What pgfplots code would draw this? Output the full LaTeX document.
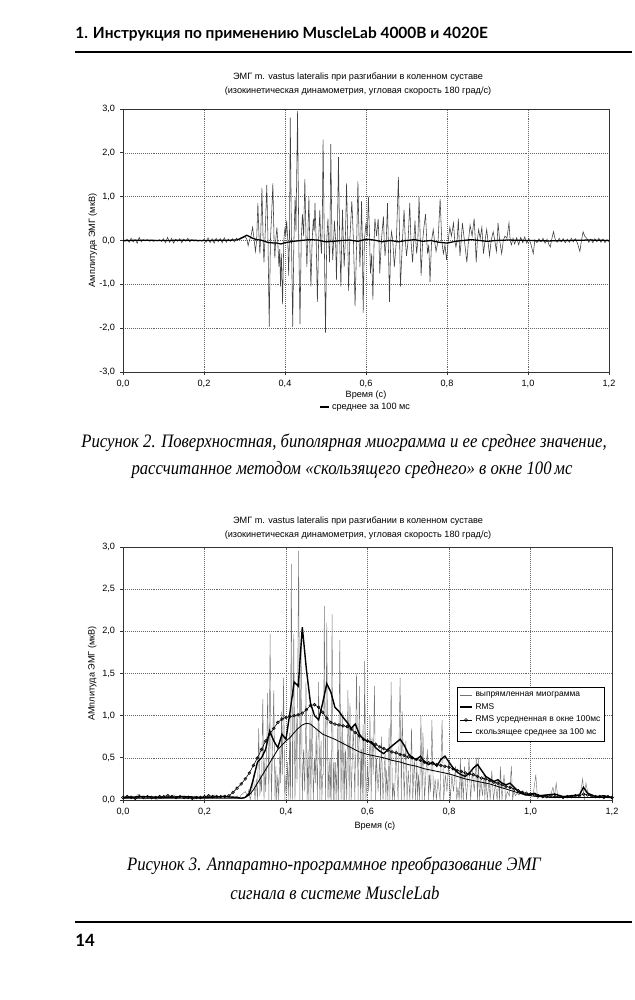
\documentclass[border=0pt]{standalone}
\usepackage{graphicx}
\usepackage{pgfplots}
\pgfplotsset{compat=1.18}
\usepackage{pgfplotstable}
\usepackage{fontspec}
\setmainfont{Liberation Sans}
\newfontfamily\capfont{Liberation Serif}
\newfontfamily\headfont{Lato}
\newcommand\cf{\fontsize{6.5}{7.5}\selectfont}
\newcommand\capt[1]{\scalebox{0.88}[1]{\capfont\itshape\fontsize{13.5}{16}\selectfont #1}}

\pgfplotstableread[row sep=\\]{
t v\\
0 0.01\\ 0.005 -0.02\\ 0.01 0.03\\ 0.015 -0.04\\ 0.02 0.05\\ 0.025 -0.03\\ 0.03 0.02\\ 0.035 -0.06\\ 0.04 0.07\\ 0.045 -0.03\\
0.05 0.02\\ 0.055 -0.01\\ 0.06 0.02\\ 0.065 -0.02\\ 0.07 0.01\\ 0.075 -0.02\\ 0.08 0.01\\ 0.085 -0.01\\ 0.09 0.02\\ 0.095 -0.02\\
0.1 0.04\\ 0.105 -0.05\\ 0.11 0.07\\ 0.115 -0.04\\ 0.12 0.05\\ 0.125 -0.06\\ 0.13 0.03\\ 0.135 -0.02\\ 0.14 0.04\\ 0.145 -0.05\\
0.15 0.03\\ 0.155 -0.02\\ 0.16 0.05\\ 0.165 -0.03\\ 0.17 0.02\\ 0.175 -0.01\\ 0.18 0.02\\ 0.185 -0.02\\ 0.19 0.01\\ 0.195 -0.02\\
0.2 0.03\\ 0.205 -0.04\\ 0.21 0.06\\ 0.215 -0.05\\ 0.22 0.04\\ 0.225 -0.06\\ 0.23 0.05\\ 0.235 -0.03\\ 0.24 0.04\\ 0.245 -0.05\\
0.25 0.06\\ 0.255 -0.04\\ 0.26 0.03\\ 0.265 -0.02\\ 0.27 0.04\\ 0.275 -0.03\\ 0.28 0.05\\ 0.285 0.02\\ 0.29 0.06\\ 0.295 0.08\\
0.3 0.1\\ 0.305 0.05\\ 0.309 -0.12\\ 0.312 0\\ 0.316 0.1\\
0.32 0.3\\ 0.324 0\\ 0.327 -0.25\\ 0.33 0\\ 0.333 0.85\\ 0.336 0.05\\ 0.338 -0.3\\ 0.34 0.1\\ 0.343 1.2\\ 0.346 0\\
0.348 -0.5\\ 0.35 -0.1\\ 0.352 0.4\\ 0.355 1.27\\ 0.358 0\\ 0.361 -1.97\\ 0.364 0\\ 0.367 0.6\\ 0.37 1.3\\ 0.373 0\\
0.375 -0.4\\ 0.377 0\\ 0.38 0.3\\ 0.382 0\\ 0.385 -0.6\\ 0.387 -0.2\\ 0.389 -1.05\\ 0.391 -0.3\\ 0.394 -1.45\\ 0.397 0\\
0.4 0.3\\ 0.402 0.1\\ 0.404 0.45\\ 0.407 0\\ 0.409 -0.8\\ 0.411 0\\ 0.413 2.8\\ 0.416 0\\ 0.419 -1.97\\ 0.422 0\\
0.425 1.0\\ 0.427 0.2\\ 0.431 2.95\\ 0.434 0\\ 0.437 -1.9\\ 0.44 0\\ 0.443 0.6\\ 0.446 0.1\\ 0.449 1.4\\ 0.452 0\\
0.454 -0.6\\ 0.456 0\\ 0.459 1.0\\ 0.461 0\\ 0.464 -1.05\\ 0.467 0\\ 0.47 0.5\\ 0.472 0.2\\ 0.474 0.85\\ 0.477 0\\
0.48 -1.4\\ 0.483 0\\ 0.486 0.7\\ 0.488 0\\ 0.49 -0.3\\ 0.492 0.3\\ 0.494 2.3\\ 0.497 0\\ 0.5 -2.1\\ 0.503 0\\
0.506 0.5\\ 0.508 0\\ 0.51 -0.5\\ 0.511 0\\ 0.513 2.2\\ 0.516 0\\ 0.518 -0.45\\ 0.52 0\\ 0.522 0.45\\ 0.525 0\\
0.527 -0.9\\ 0.529 0\\ 0.532 1.9\\ 0.535 0\\ 0.538 -1.05\\ 0.54 0\\ 0.542 0.7\\ 0.544 0\\ 0.546 -0.6\\ 0.549 0\\
0.552 1.3\\ 0.555 0\\ 0.557 -1.15\\ 0.56 0\\ 0.565 0.9\\ 0.569 0\\ 0.573 -1.5\\ 0.577 0\\ 0.58 1.35\\ 0.583 0\\
0.585 -0.6\\ 0.587 0\\ 0.589 0.9\\ 0.591 0\\ 0.593 -1.65\\ 0.596 0\\ 0.6 0.4\\ 0.603 0.1\\ 0.606 1.0\\ 0.609 0\\
0.611 -0.75\\ 0.614 -0.3\\ 0.617 -1.35\\ 0.62 0\\ 0.622 0.5\\ 0.626 0.1\\ 0.63 0.5\\ 0.632 0\\ 0.634 -0.75\\ 0.638 0\\
0.643 0.55\\ 0.645 0\\ 0.647 -0.35\\ 0.65 0\\ 0.653 0.85\\ 0.655 0\\ 0.658 -1.4\\ 0.661 0\\ 0.663 0.2\\ 0.666 0\\
0.67 -0.6\\ 0.675 0\\ 0.68 1.45\\ 0.683 0\\ 0.685 -1.05\\ 0.69 0\\ 0.694 0.7\\ 0.697 0\\ 0.7 -0.35\\ 0.704 0\\
0.708 0.85\\ 0.711 0\\ 0.715 -0.5\\ 0.718 0\\ 0.721 0.45\\ 0.723 0\\ 0.725 -0.3\\ 0.728 0\\ 0.731 1.0\\ 0.734 0\\
0.736 -0.8\\ 0.74 0\\ 0.743 0.3\\ 0.747 0.6\\ 0.75 0\\ 0.752 -0.3\\ 0.755 -0.1\\ 0.758 -0.95\\ 0.762 0\\ 0.766 0.25\\
0.769 0\\ 0.773 -0.25\\ 0.778 0\\ 0.783 0.95\\ 0.787 0\\ 0.791 -0.3\\ 0.795 -0.1\\ 0.799 -0.45\\ 0.803 0\\ 0.807 0.3\\
0.811 0.1\\ 0.816 0.4\\ 0.819 0\\ 0.822 -0.15\\ 0.825 0\\ 0.828 0.5\\ 0.83 0\\ 0.832 -0.35\\ 0.835 0\\ 0.838 0.4\\
0.843 0\\ 0.849 -0.5\\ 0.853 0\\ 0.857 0.35\\ 0.862 0.1\\ 0.867 0.5\\ 0.87 0\\ 0.872 -0.5\\ 0.875 0\\ 0.878 0.25\\
0.882 0.05\\ 0.886 0.3\\ 0.888 0\\ 0.89 -0.3\\ 0.894 0\\ 0.898 0.25\\ 0.901 0\\ 0.905 -0.35\\ 0.909 0\\ 0.914 0.2\\
0.918 0\\ 0.922 -0.25\\ 0.924 0\\ 0.926 0.4\\ 0.93 0\\ 0.935 -0.3\\ 0.939 0\\ 0.943 0.1\\ 0.948 0.05\\ 0.953 0.4\\
0.956 0\\ 0.959 -0.1\\ 0.963 0.05\\ 0.967 -0.08\\ 0.972 0.06\\ 0.977 -0.1\\ 0.982 0.07\\ 0.987 -0.05\\ 0.992 0.08\\ 0.997 -0.06\\
1.002 0.05\\ 1.007 -0.08\\ 1.013 -0.3\\ 1.017 0.02\\ 1.022 -0.05\\ 1.027 0.04\\ 1.032 -0.03\\ 1.037 0.05\\ 1.042 -0.06\\ 1.047 0.03\\
1.052 -0.1\\ 1.055 -0.15\\ 1.059 0.05\\ 1.063 0.2\\ 1.067 0.03\\ 1.072 -0.04\\ 1.077 0.05\\ 1.082 -0.03\\ 1.087 0.04\\ 1.092 -0.05\\
1.097 0.03\\ 1.102 -0.04\\ 1.107 0.05\\ 1.112 -0.03\\ 1.117 0.04\\ 1.122 -0.06\\ 1.128 -0.25\\ 1.132 0\\ 1.136 0.2\\ 1.14 0.1\\
1.145 0.05\\ 1.15 -0.04\\ 1.155 0.03\\ 1.16 -0.05\\ 1.165 0.04\\ 1.17 -0.03\\ 1.175 0.05\\ 1.18 -0.04\\ 1.185 0.03\\ 1.19 -0.05\\
1.195 0.02\\ 1.2 -0.03\\
}\rawdata

\pgfplotsset{
  emg/.style={
    scale only axis, anchor=south west,
    xmin=0, xmax=1.2,
    xtick={0,0.2,0.4,0.6,0.8,1,1.2},
    grid=major,
    major grid style={black!60, densely dotted, line width=0.35pt},
    axis line style={black!80, line width=0.5pt},
    tick style={black!80, line width=0.5pt},
    tick align=outside, major tick length=0.75mm, tick pos=left,
    ticklabel style={font=\cf},
    label style={font=\cf},
    xticklabel style={/pgf/number format/.cd, fixed, fixed zerofill, precision=1, use comma, assume math mode=true},
    yticklabel style={/pgf/number format/.cd, fixed, fixed zerofill, precision=1, use comma, assume math mode=true},
    legend image code/.code={\draw[mark repeat=2,mark phase=2,#1] plot coordinates {(0mm,0mm) (1.5mm,0mm) (3mm,0mm)};},
  }
}

\begin{document}
\begin{tikzpicture}[x=0.25mm,y=0.25mm]
\useasboundingbox (0,0) rectangle (635,1000);
\fill[white] (0,0) rectangle (635,1000);

% header
\node[anchor=west, inner sep=0, font=\headfont\bfseries\fontsize{11}{13}\selectfont] at (75,966) {1. Инструкция по применению MuscleLab 4000B и 4020E};
\draw[line width=0.5mm] (75,948) -- (632,948);

% chart 1 title
\node[font=\cf, inner sep=0] at (358,923) {ЭМГ m. vastus lateralis при разгибании в коленном суставе};
\node[font=\cf, inner sep=0] at (358,909) {(изокинетическая динамометрия, угловая скорость 180 град/с)};

\begin{axis}[emg,
  at={(30.75mm,157mm)}, width=121.5mm, height=65.75mm,
  ymin=-3, ymax=3, ytick={-3,-2,-1,0,1,2,3},
  xlabel={Время (с)},
  xlabel style={at={(axis description cs:0.5,-0.087)}, anchor=center},
  ylabel={Амплитуда ЭМГ (мкВ)},
  ylabel style={at={(axis description cs:-0.062,0.5)}, anchor=center},
  legend style={at={(0.5,-0.133)}, anchor=center, draw=none, fill=none, font=\cf, inner sep=0pt},
  legend image code/.code={\draw[#1] (0mm,0mm) -- (2.2mm,0mm);},
]
\addplot[black!75, line width=0.4pt, forget plot] table[x=t,y=v]{\rawdata};
\addplot[black, line width=0.9pt] coordinates {
(0,0.0) (0.05,0.005) (0.1,0.0) (0.15,0.005) (0.2,0.0) (0.25,0.005) (0.28,0.01) (0.29,0.04) (0.3,0.09) (0.305,0.12)
(0.31,0.1) (0.32,0.05) (0.33,0.02) (0.34,0.01) (0.35,-0.02) (0.36,-0.05) (0.38,-0.06) (0.39,-0.08) (0.4,-0.05) (0.42,-0.02)
(0.44,0.0) (0.46,0.02) (0.48,0.01) (0.5,-0.03) (0.52,-0.02) (0.54,0.0) (0.56,0.01) (0.58,-0.02) (0.6,0.03) (0.62,0.01)
(0.64,-0.03) (0.66,0.0) (0.68,-0.03) (0.7,0.0) (0.72,0.02) (0.74,-0.02) (0.76,0.0) (0.78,-0.04) (0.8,-0.06) (0.82,-0.02)
(0.84,0.0) (0.86,0.02) (0.88,0.0) (0.9,-0.02) (0.92,0.0) (0.95,0.01) (1.0,0.0) (1.05,-0.01) (1.1,0.0) (1.15,0.01) (1.2,0.0)
};
\addlegendentry{среднее за 100 мс}
\end{axis}

% caption 1
\node[inner sep=0] at (344,557) {\capt{Рисунок 2. Поверхностная, биполярная миограмма и ее среднее значение,}};
\node[inner sep=0] at (352,530) {\capt{рассчитанное методом «скользящего среднего» в окне 100\,мс}};

% chart 2 title
\node[font=\cf, inner sep=0] at (358,479) {ЭМГ m. vastus lateralis при разгибании в коленном суставе};
\node[font=\cf, inner sep=0] at (358,465) {(изокинетическая динамометрия, угловая скорость 180 град/с)};

\begin{axis}[emg,
  at={(30.75mm,50mm)}, width=122.25mm, height=63.25mm,
  ymin=0, ymax=3, ytick={0,0.5,1,1.5,2,2.5,3},
  xlabel={Время (с)},
  xlabel style={at={(axis description cs:0.515,-0.103)}, anchor=center},
  ylabel={АМплитуда ЭМГ (мкВ)},
  ylabel style={at={(axis description cs:-0.063,0.5)}, anchor=center},
  legend style={at={(0.986,0.447)}, anchor=north east, draw=black, line width=0.5pt, fill=white, font=\fontsize{6}{7}\selectfont, inner sep=1.2pt, row sep=-0.6pt},
  legend cell align=left,
]
\addplot[black!55, line width=0.3pt] table[x=t, y expr={abs(\thisrow{v})}]{\rawdata};
\addlegendentry{выпрямленная миограмма}
\addplot[black, line width=1pt] coordinates {
(0,0.03) (0.05,0.04) (0.1,0.03) (0.15,0.04) (0.2,0.03) (0.25,0.04) (0.28,0.03) (0.29,0.02) (0.3,0.03) (0.31,0.08)
(0.32,0.25) (0.33,0.45) (0.34,0.5) (0.35,0.6) (0.36,0.82) (0.37,0.7) (0.38,0.62) (0.39,0.78) (0.4,0.72) (0.41,1.05)
(0.42,1.4) (0.43,1.35) (0.44,2.05) (0.45,1.55) (0.46,1.15) (0.47,1.0) (0.48,0.95) (0.49,1.15) (0.5,1.38) (0.51,1.28)
(0.52,1.1) (0.53,1.05) (0.54,0.98) (0.55,0.92) (0.56,0.85) (0.57,0.9) (0.58,0.78) (0.59,0.72) (0.6,0.7) (0.61,0.68)
(0.62,0.62) (0.63,0.58) (0.64,0.55) (0.65,0.6) (0.66,0.64) (0.67,0.68) (0.68,0.72) (0.69,0.65) (0.7,0.55) (0.71,0.5)
(0.72,0.48) (0.73,0.52) (0.74,0.45) (0.75,0.42) (0.76,0.45) (0.77,0.4) (0.78,0.48) (0.79,0.52) (0.8,0.45) (0.81,0.38)
(0.82,0.33) (0.83,0.3) (0.84,0.28) (0.85,0.32) (0.86,0.38) (0.87,0.42) (0.88,0.35) (0.89,0.28) (0.9,0.25) (0.91,0.22)
(0.92,0.24) (0.93,0.2) (0.94,0.18) (0.95,0.2) (0.96,0.15) (0.97,0.1) (0.98,0.08) (0.99,0.06) (1.0,0.07) (1.01,0.08)
(1.02,0.05) (1.04,0.06) (1.06,0.07) (1.08,0.04) (1.1,0.05) (1.12,0.06) (1.13,0.15) (1.14,0.08) (1.16,0.04) (1.18,0.05) (1.2,0.03)
};
\addlegendentry{RMS}
\addplot[black, line width=0.4pt, mark=o, mark size=1pt] coordinates {
(0,0.03) (0.01,0.04) (0.02,0.03) (0.03,0.02) (0.04,0.04) (0.05,0.03) (0.06,0.04) (0.07,0.03) (0.08,0.03) (0.09,0.04)
(0.1,0.04) (0.11,0.05) (0.12,0.04) (0.13,0.03) (0.14,0.04) (0.15,0.03) (0.16,0.03) (0.17,0.02) (0.18,0.03) (0.19,0.03)
(0.2,0.04) (0.21,0.05) (0.22,0.04) (0.23,0.04) (0.24,0.04) (0.25,0.04) (0.26,0.05) (0.27,0.09) (0.28,0.14) (0.29,0.19)
(0.3,0.25) (0.31,0.32) (0.32,0.41) (0.33,0.5) (0.34,0.6) (0.35,0.7) (0.36,0.78) (0.37,0.85) (0.38,0.92) (0.39,0.96)
(0.4,0.98) (0.41,0.99) (0.42,1.0) (0.43,1.01) (0.44,1.03) (0.45,1.07) (0.46,1.12) (0.47,1.13) (0.48,1.1) (0.49,1.04)
(0.5,0.97) (0.51,0.92) (0.52,0.9) (0.53,0.89) (0.54,0.88) (0.55,0.87) (0.56,0.84) (0.57,0.8) (0.58,0.76) (0.59,0.72)
(0.6,0.7) (0.61,0.68) (0.62,0.66) (0.63,0.63) (0.64,0.61) (0.65,0.59) (0.66,0.57) (0.67,0.56) (0.68,0.54) (0.69,0.53)
(0.7,0.51) (0.71,0.5) (0.72,0.48) (0.73,0.47) (0.74,0.45) (0.75,0.44) (0.76,0.43) (0.77,0.42) (0.78,0.41) (0.79,0.4)
(0.8,0.39) (0.81,0.37) (0.82,0.35) (0.83,0.34) (0.84,0.32) (0.85,0.31) (0.86,0.3) (0.87,0.28) (0.88,0.26) (0.89,0.25)
(0.9,0.23) (0.91,0.21) (0.92,0.2) (0.93,0.18) (0.94,0.16) (0.95,0.15) (0.96,0.13) (0.97,0.11) (0.98,0.09) (0.99,0.08)
(1.0,0.07) (1.01,0.06) (1.02,0.05) (1.03,0.04) (1.04,0.04) (1.05,0.05) (1.06,0.04) (1.07,0.04) (1.08,0.03) (1.09,0.04)
(1.1,0.04) (1.11,0.05) (1.12,0.05) (1.13,0.07) (1.14,0.06) (1.15,0.05) (1.16,0.04) (1.17,0.04) (1.18,0.03) (1.19,0.04) (1.2,0.03)
};
\addlegendentry{RMS усредненная в окне 100мс}
\addplot[black, line width=0.6pt] coordinates {
(0,0.02) (0.1,0.02) (0.2,0.02) (0.29,0.02) (0.3,0.03) (0.31,0.06) (0.32,0.12) (0.33,0.2) (0.34,0.28) (0.35,0.36)
(0.36,0.44) (0.37,0.52) (0.38,0.6) (0.39,0.65) (0.4,0.7) (0.41,0.74) (0.42,0.8) (0.43,0.85) (0.44,0.89) (0.45,0.91)
(0.46,0.9) (0.47,0.86) (0.48,0.82) (0.49,0.78) (0.5,0.76) (0.52,0.72) (0.54,0.67) (0.56,0.62) (0.58,0.57) (0.6,0.54)
(0.62,0.52) (0.64,0.5) (0.66,0.47) (0.68,0.45) (0.7,0.42) (0.72,0.4) (0.74,0.37) (0.76,0.35) (0.78,0.33) (0.8,0.31)
(0.82,0.28) (0.84,0.25) (0.86,0.23) (0.88,0.21) (0.9,0.19) (0.92,0.16) (0.94,0.13) (0.96,0.1) (0.98,0.07) (1.0,0.05)
(1.02,0.04) (1.05,0.03) (1.1,0.03) (1.15,0.03) (1.2,0.03)
};
\addlegendentry{скользящее среднее за 100 мс}
\end{axis}

% caption 2
\node[inner sep=0] at (334,134) {\capt{Рисунок 3. Аппаратно-программное преобразование ЭМГ}};
\node[inner sep=0] at (335,107) {\capt{сигнала в системе MuscleLab}};

% footer
\draw[line width=0.4mm] (75,78) -- (632,78);
\node[anchor=west, inner sep=0, font=\headfont\bfseries\fontsize{12}{14}\selectfont] at (75,60) {14};
\end{tikzpicture}
\end{document}
